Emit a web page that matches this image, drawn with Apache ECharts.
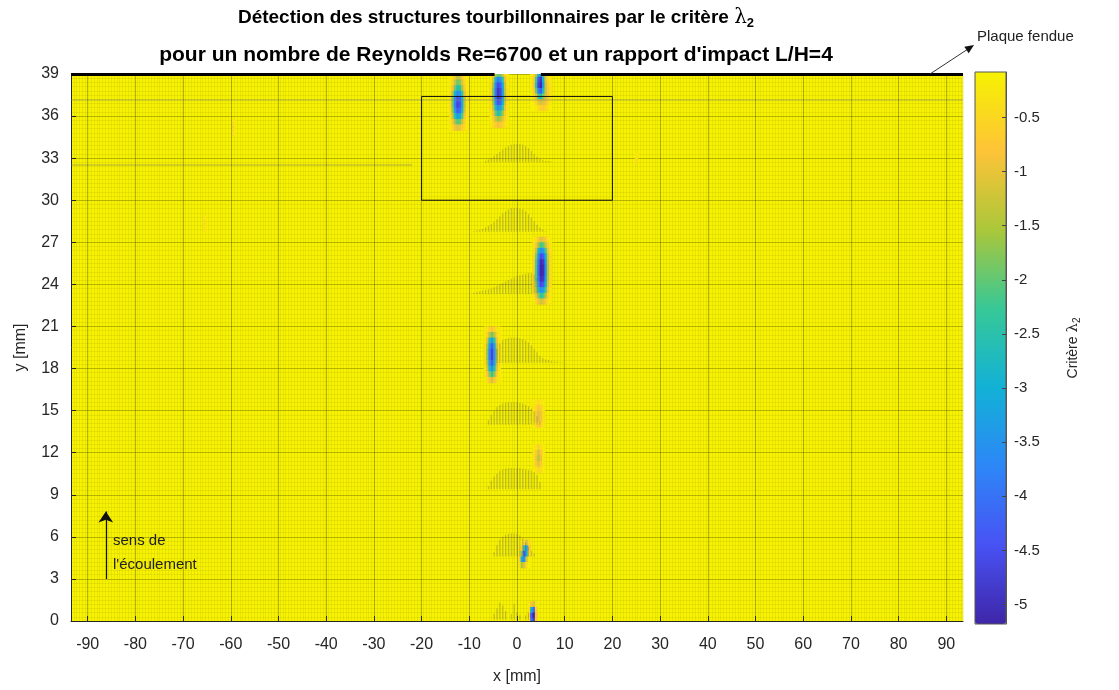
<!DOCTYPE html>
<html>
<head>
<meta charset="utf-8">
<script src="https://cdn.jsdelivr.net/npm/echarts@6/dist/echarts.min.js"></script>
<style>
  html, body { margin: 0; background: #fff; }
  #chart { width: 1119px; height: 690px; }
</style>
</head>
<body>
<div id="chart"></div>
<script>
// axis ticks
var xTicks = [-90, -80, -70, -60, -50, -40, -30, -20, -10, 0, 10, 20, 30, 40, 50, 60, 70, 80, 90];
var cbTicks = [-5, -4.5, -4, -3.5, -3, -2.5, -2, -1.5, -1, -0.5];

// lambda2 values around each vortex (rows from top to bottom), background is about -0.1
var vortexTopLeft = {
  x: [-14, -13.5, -13, -12.5, -12, -11.5, -11, -10.5],
  y: [38.8, 38.4, 38, 37.6, 37.2, 36.8, 36.4, 36, 35.6, 35.2],
  v: [
    [-0.2, -0.4, -0.9, -1.4, -1.3, -0.8, -0.3, -0.2],
    [-0.2, -0.6, -1.3, -1.9, -1.8, -1.1, -0.5, -0.2],
    [-0.3, -0.9, -1.9, -2.6, -2.5, -1.6, -0.7, -0.2],
    [-0.4, -1.4, -2.9, -3.7, -3.5, -2.4, -1.0, -0.3],
    [-0.4, -1.8, -3.6, -4.5, -4.3, -3.0, -1.3, -0.3],
    [-0.5, -1.9, -3.8, -4.7, -4.5, -3.2, -1.4, -0.3],
    [-0.4, -1.7, -3.4, -4.3, -4.1, -2.9, -1.2, -0.3],
    [-0.4, -1.3, -2.6, -3.3, -3.1, -2.1, -0.9, -0.3],
    [-0.3, -0.8, -1.6, -2.1, -2.0, -1.3, -0.6, -0.2],
    [-0.2, -0.5, -0.9, -1.1, -1.0, -0.7, -0.4, -0.2]
  ]
};
var vortexTopMid = {
  x: [-5.5, -5, -4.5, -4, -3.5, -3, -2.5, -2],
  y: [39, 38.6, 38.2, 37.8, 37.4, 37, 36.6, 36.2, 35.8, 35.4],
  v: [
    [-0.2, -0.6, -1.4, -2.0, -1.9, -1.2, -0.5, -0.2],
    [-0.3, -1.2, -2.8, -3.8, -3.6, -2.4, -1.0, -0.3],
    [-0.4, -1.6, -3.6, -4.6, -4.4, -3.1, -1.3, -0.3],
    [-0.5, -1.8, -3.9, -4.9, -4.7, -3.3, -1.4, -0.4],
    [-0.5, -1.8, -3.9, -4.9, -4.7, -3.3, -1.4, -0.4],
    [-0.4, -1.6, -3.5, -4.5, -4.3, -3.0, -1.3, -0.3],
    [-0.4, -1.3, -2.7, -3.6, -3.4, -2.3, -1.0, -0.3],
    [-0.3, -0.9, -1.9, -2.6, -2.4, -1.6, -0.7, -0.2],
    [-0.2, -0.6, -1.2, -1.6, -1.5, -1.0, -0.5, -0.2],
    [-0.2, -0.4, -0.7, -0.9, -0.8, -0.6, -0.3, -0.2]
  ]
};
var vortexTopRight = {
  x: [3, 3.5, 4, 4.5, 5, 5.5, 6, 6.5, 7],
  y: [39, 38.6, 38.2, 37.8, 37.4, 37, 36.6],
  v: [
    [-0.2, -0.5, -1.4, -3.0, -3.6, -2.0, -0.8, -0.3, -0.2],
    [-0.2, -0.7, -2.2, -4.4, -4.9, -3.0, -1.1, -0.5, -0.2],
    [-0.2, -0.8, -2.5, -4.7, -5.1, -3.4, -1.3, -0.6, -0.3],
    [-0.2, -0.6, -1.9, -3.8, -4.3, -2.8, -1.3, -0.7, -0.3],
    [-0.1, -0.4, -1.0, -2.2, -2.6, -1.8, -1.1, -0.7, -0.3],
    [-0.1, -0.2, -0.5, -1.0, -1.2, -1.1, -0.9, -0.5, -0.2],
    [-0.1, -0.1, -0.2, -0.4, -0.6, -0.7, -0.5, -0.3, -0.1]
  ]
};
var vortex25 = {
  x: [3.5, 4, 4.5, 5, 5.5, 6, 6.5, 7],
  y: [27.2, 26.8, 26.4, 26, 25.6, 25.2, 24.8, 24.4, 24, 23.6, 23.2, 22.8],
  v: [
    [-0.2, -0.4, -0.8, -1.1, -1.0, -0.7, -0.3, -0.2],
    [-0.3, -0.8, -1.6, -2.2, -2.0, -1.3, -0.6, -0.2],
    [-0.4, -1.3, -2.8, -3.6, -3.4, -2.2, -0.9, -0.3],
    [-0.5, -1.8, -3.6, -4.6, -4.4, -3.0, -1.2, -0.4],
    [-0.6, -2.1, -4.0, -5.1, -4.9, -3.4, -1.4, -0.4],
    [-0.6, -2.2, -4.2, -5.2, -5.1, -3.6, -1.5, -0.4],
    [-0.6, -2.2, -4.2, -5.2, -5.1, -3.6, -1.5, -0.4],
    [-0.6, -2.1, -4.0, -5.0, -4.9, -3.4, -1.4, -0.4],
    [-0.5, -1.8, -3.6, -4.6, -4.4, -3.0, -1.2, -0.4],
    [-0.4, -1.4, -2.8, -3.6, -3.4, -2.3, -0.9, -0.3],
    [-0.3, -0.9, -1.8, -2.4, -2.2, -1.5, -0.6, -0.2],
    [-0.2, -0.5, -0.9, -1.2, -1.1, -0.7, -0.3, -0.2]
  ]
};
var vortex19 = {
  x: [-6.75, -6.25, -5.75, -5.25, -4.75, -4.25, -3.75],
  y: [20.8, 20.4, 20, 19.6, 19.2, 18.8, 18.4, 18, 17.6, 17.2],
  v: [
    [-0.2, -0.3, -0.6, -0.8, -0.6, -0.3, -0.2],
    [-0.2, -0.6, -1.4, -1.9, -1.4, -0.6, -0.2],
    [-0.3, -1.1, -2.6, -3.3, -2.5, -1.0, -0.3],
    [-0.4, -1.5, -3.4, -4.3, -3.3, -1.4, -0.4],
    [-0.4, -1.7, -3.8, -4.7, -3.7, -1.6, -0.4],
    [-0.4, -1.7, -3.8, -4.7, -3.7, -1.6, -0.4],
    [-0.4, -1.5, -3.4, -4.3, -3.3, -1.4, -0.4],
    [-0.3, -1.2, -2.7, -3.5, -2.6, -1.1, -0.3],
    [-0.3, -0.8, -1.7, -2.4, -1.7, -0.7, -0.2],
    [-0.2, -0.4, -0.8, -1.2, -0.8, -0.4, -0.2]
  ]
};
var orange15 = {
  x: [3.5, 4, 4.5, 5, 5.5],
  y: [15.6, 15.2, 14.8, 14.4, 14],
  v: [
    [-0.2, -0.3, -0.4, -0.3, -0.2],
    [-0.3, -0.5, -0.8, -0.6, -0.3],
    [-0.3, -0.7, -1.1, -0.9, -0.4],
    [-0.3, -0.7, -1.1, -0.9, -0.4],
    [-0.2, -0.4, -0.7, -0.5, -0.3]
  ]
};
var orange12 = {
  x: [3.5, 4, 4.5, 5, 5.5],
  y: [12.4, 12, 11.6, 11.2, 10.8],
  v: [
    [-0.2, -0.3, -0.6, -0.4, -0.2],
    [-0.3, -0.7, -1.2, -0.8, -0.3],
    [-0.3, -0.9, -1.4, -1.0, -0.3],
    [-0.3, -0.7, -1.1, -0.7, -0.3],
    [-0.2, -0.3, -0.5, -0.4, -0.2]
  ]
};
var vortex5 = {
  x: [0.5, 1, 1.5, 2, 2.5],
  y: [5.6, 5.2, 4.8, 4.4, 4],
  v: [
    [-0.1, -0.2, -0.6, -1.2, -0.5],
    [-0.2, -0.7, -2.6, -3.4, -0.9],
    [-0.3, -1.8, -4.3, -3.0, -0.5],
    [-0.5, -3.2, -3.6, -1.2, -0.2],
    [-0.3, -1.5, -1.1, -0.4, -0.1]
  ]
};
var vortex0 = {
  x: [2.5, 3, 3.5, 4],
  y: [1.2, 0.8, 0.4, 0],
  v: [
    [-0.2, -0.8, -1.2, -0.3],
    [-0.4, -3.0, -4.2, -0.6],
    [-0.5, -4.4, -5.2, -0.8],
    [-0.4, -4.0, -4.8, -0.6]
  ]
};
var faintSpots = [
  [-59.5, 35.6, -0.35], [-59.5, 35.2, -0.45], [-59.5, 34.8, -0.35],
  [-65.5, 28.8, -0.3], [-65.5, 28.4, -0.4], [-65.5, 28.0, -0.3],
  [25, 33.2, -0.3], [25, 32.8, -0.4]
];

// velocity vectors (quiver): x positions, base height of each row, vector lengths in mm
var quiverX = [-9, -8.4, -7.8, -7.2, -6.6, -6, -5.4, -4.8, -4.2, -3.6, -3, -2.4, -1.8, -1.2, -0.6, 0,
               0.6, 1.2, 1.8, 2.4, 3, 3.6, 4.2, 4.8, 5.4, 6, 6.6, 7.2, 7.8, 8.4, 9, 9.6];
var quiverBaseY = [32.7, 27.75, 23.3, 18.4, 14.0, 9.4, 4.6, 0.1];
var quiverLen = [
  [0, 0, 0, 0, 0.1, 0.2, 0.3, 0.45, 0.6, 0.75, 0.9, 1.05, 1.15, 1.25, 1.3, 1.3, 1.3, 1.25, 1.15, 1.0, 0.8, 0.6, 0.4, 0.25, 0.15, 0.1, 0.1, 0.05, 0, 0, 0, 0],
  [0.05, 0.1, 0.15, 0.2, 0.3, 0.4, 0.55, 0.7, 0.9, 1.1, 1.3, 1.45, 1.6, 1.7, 1.7, 1.7, 1.65, 1.6, 1.45, 1.25, 1.0, 0.75, 0.5, 0.3, 0.15, 0.05, 0, 0, 0, 0, 0, 0],
  [0.1, 0.15, 0.2, 0.25, 0.3, 0.35, 0.4, 0.5, 0.6, 0.7, 0.8, 0.9, 1.0, 1.1, 1.2, 1.3, 1.35, 1.4, 1.45, 1.5, 1.5, 1.4, 1.2, 0, 0, 0, 0, 0, 0, 0, 0, 0],
  [0, 0, 0, 0, 0, 0, 0, 0, 1.0, 1.4, 1.6, 1.7, 1.75, 1.8, 1.8, 1.8, 1.75, 1.7, 1.6, 1.45, 1.25, 1.0, 0.75, 0.5, 0.35, 0.25, 0.2, 0.15, 0.1, 0.1, 0.05, 0.05],
  [0, 0, 0, 0, 0, 0.3, 0.7, 1.0, 1.25, 1.4, 1.5, 1.55, 1.6, 1.6, 1.6, 1.6, 1.55, 1.5, 1.4, 1.3, 1.15, 0.95, 0.6, 0.2, 0, 0, 0, 0, 0, 0, 0, 0],
  [0, 0, 0, 0, 0, 0.2, 0.6, 0.9, 1.1, 1.3, 1.4, 1.45, 1.5, 1.5, 1.5, 1.5, 1.5, 1.45, 1.4, 1.35, 1.3, 1.2, 1.0, 0.5, 0, 0, 0, 0, 0, 0, 0, 0],
  [0, 0, 0, 0, 0, 0, 0, 0.3, 0.8, 1.2, 1.4, 1.55, 1.6, 1.65, 1.65, 1.6, 1.5, 1.3, 1.0, 0.7, 0.4, 0.2, 0, 0, 0, 0, 0, 0, 0, 0, 0, 0],
  [0, 0, 0, 0, 0, 0, 0, 0.4, 0.8, 1.2, 1.0, 0.6, 0, 0.4, 1.1, 0.5, 0.3, 0, 0.3, 0.5, 0, 0, 0, 0, 0, 0, 0, 0, 0, 0, 0, 0]
];

// faint rows of tiny vectors near the plate
var streakRows = [
  [[-93.5, 37.15], [93.5, 37.15]],
  [[-93.5, 32.5], [-22, 32.5]]
];
// slotted plate at y = 39 (slot between -4.7 and 5 mm), zoom box, flow direction arrow
var plateSegments = [
  [[-93.5, 39], [-4.7, 39]],
  [[5, 39], [93.5, 39]]
];
var boxX = [-20, 20];
var boxY = [30, 37.4];
var flowArrow = [[-86.2, 3.0], [-86.2, 7.8]];

var parula = ['#3E26A8', '#4852F4', '#2D87F7', '#12B1D6', '#37C897', '#ABC739', '#FEC338', '#F6F201'];
var FONT = '"Liberation Sans", Arial, sans-serif';
var CELL_DX = 0.5, CELL_DY = 0.4;

function cellsOf(b) {
  var out = [];
  b.v.forEach(function (row, i) {
    row.forEach(function (val, j) { out.push([b.x[j], b.y[i], val]); });
  });
  return out;
}
var cellData = []
  .concat(cellsOf(vortexTopLeft), cellsOf(vortexTopMid), cellsOf(vortexTopRight),
          cellsOf(vortex25), cellsOf(vortex19), cellsOf(orange15), cellsOf(orange12),
          cellsOf(vortex5), cellsOf(vortex0), faintSpots);

var quiverData = [];
quiverLen.forEach(function (row, r) {
  row.forEach(function (h, i) {
    if (h > 0) quiverData.push([quiverX[i], quiverBaseY[r], h]);
  });
});

function renderCell(params, api) {
  var p = api.coord([api.value(0), api.value(1)]);
  var s = api.size([CELL_DX, CELL_DY]);
  return {
    type: 'rect',
    shape: { x: p[0] - s[0] / 2, y: p[1] - s[1] / 2, width: s[0] + 0.6, height: s[1] + 0.6 },
    style: { fill: api.visual('color') }
  };
}
function renderVector(params, api) {
  var a = api.coord([api.value(0), api.value(1)]);
  var b = api.coord([api.value(0), api.value(1) + api.value(2)]);
  return {
    type: 'line',
    shape: { x1: a[0], y1: a[1], x2: b[0], y2: b[1] },
    style: { stroke: 'rgba(95,95,95,0.38)', lineWidth: 1 }
  };
}

var chart = echarts.init(document.getElementById('chart'));
var axisColor = '#262626';

var option = {
  backgroundColor: '#fff',
  animation: false,
  textStyle: { fontFamily: FONT },
  grid: [
    { left: 71, top: 74, width: 892, height: 548, show: true, backgroundColor: parula[7], borderWidth: 0 },
    { left: 975, top: 72, width: 31, height: 552, show: true, backgroundColor: 'transparent', borderColor: '#555', borderWidth: 1, z: 6 }
  ],
  visualMap: {
    type: 'continuous',
    seriesIndex: 0,
    dimension: 2,
    min: -5.18,
    max: -0.08,
    calculable: false,
    left: 975,
    top: 72,
    itemWidth: 31,
    itemHeight: 552,
    padding: 0,
    inRange: { color: parula }
  },
  xAxis: [
    {
      gridIndex: 0, type: 'value', min: -93.5, max: 93.5,
      name: 'x [mm]', nameLocation: 'middle', nameGap: 48,
      nameTextStyle: { fontSize: 16, color: axisColor, fontFamily: FONT },
      axisLine: { show: true, onZero: false, lineStyle: { color: axisColor, width: 1 } },
      axisTick: { show: true, inside: true, length: 5, customValues: xTicks, lineStyle: { color: axisColor } },
      axisLabel: { customValues: xTicks, fontSize: 16, color: axisColor, margin: 16, fontFamily: FONT },
      splitLine: { show: false }
    },
    {
      gridIndex: 0, type: 'value', min: -93.5, max: 93.5, interval: 0.6, position: 'top',
      axisLine: { show: false }, axisTick: { show: false }, axisLabel: { show: false },
      splitLine: { show: true, lineStyle: { color: 'rgba(110,100,0,0.10)', width: 1 } }
    },
    { gridIndex: 1, type: 'value', min: 0, max: 1, show: false }
  ],
  yAxis: [
    {
      gridIndex: 0, type: 'value', min: 0, max: 39, interval: 3,
      name: 'y [mm]', nameLocation: 'middle', nameGap: 42, nameRotate: 90,
      nameTextStyle: { fontSize: 16, color: axisColor, fontFamily: FONT },
      axisLine: { show: true, onZero: false, lineStyle: { color: axisColor, width: 1 } },
      axisTick: { show: true, inside: true, length: 5, lineStyle: { color: axisColor } },
      axisLabel: { fontSize: 16, color: axisColor, margin: 12, fontFamily: FONT },
      splitLine: { show: true, lineStyle: { color: 'rgba(70,70,0,0.35)', width: 1 } },
      minorTick: { show: false, splitNumber: 10 },
      minorSplitLine: { show: true, lineStyle: { color: 'rgba(110,100,0,0.10)', width: 1 } }
    },
    {
      gridIndex: 1, type: 'value', min: -5.18, max: -0.08, position: 'right', z: 6,
      name: 'Critère {l|λ}{s|2}', nameLocation: 'middle', nameGap: 58, nameRotate: 90,
      nameTextStyle: {
        fontSize: 14, color: axisColor, fontFamily: FONT,
        rich: {
          l: { fontSize: 15, fontFamily: '"DejaVu Serif", serif', color: axisColor },
          s: { fontSize: 10, color: axisColor, fontFamily: FONT, padding: [8, 0, 0, 0] }
        }
      },
      axisLine: { show: true, onZero: false, lineStyle: { color: '#555', width: 1 } },
      axisTick: { show: true, inside: true, length: 4, customValues: cbTicks, lineStyle: { color: '#444' } },
      axisLabel: { customValues: cbTicks, fontSize: 15, color: axisColor, margin: 8, fontFamily: FONT },
      splitLine: { show: false }
    }
  ],
  series: [
    {
      name: 'lambda2', type: 'custom', xAxisIndex: 0, yAxisIndex: 0,
      renderItem: renderCell, data: cellData, encode: { x: 0, y: 1 },
      clip: true, z: 3, silent: true
    },
    {
      name: 'grid x', type: 'line', xAxisIndex: 0, yAxisIndex: 0, data: [], z: 2, silent: true,
      markLine: {
        silent: true, symbol: 'none', label: { show: false },
        lineStyle: { color: 'rgba(70,70,0,0.35)', width: 1, type: 'solid' },
        data: xTicks.map(function (v) { return { xAxis: v }; })
      }
    },
    {
      name: 'vectors', type: 'custom', xAxisIndex: 0, yAxisIndex: 0,
      renderItem: renderVector, data: quiverData, encode: { x: 0, y: 1 },
      clip: true, z: 4, silent: true
    },
    {
      name: 'streaks', type: 'lines', coordinateSystem: 'cartesian2d', xAxisIndex: 0, yAxisIndex: 0,
      data: streakRows.map(function (c) { return { coords: c }; }),
      lineStyle: { color: 'rgba(120,120,120,0.35)', width: 1.5, opacity: 1 }, z: 4, silent: true
    },
    {
      name: 'plate', type: 'lines', coordinateSystem: 'cartesian2d', xAxisIndex: 0, yAxisIndex: 0,
      data: plateSegments.map(function (c) { return { coords: c }; }),
      lineStyle: { color: '#000', width: 3, opacity: 1 }, clip: false, z: 6, silent: true
    },
    {
      name: 'box', type: 'lines', coordinateSystem: 'cartesian2d', polyline: true,
      xAxisIndex: 0, yAxisIndex: 0,
      data: [{ coords: [[boxX[0], boxY[0]], [boxX[1], boxY[0]], [boxX[1], boxY[1]], [boxX[0], boxY[1]], [boxX[0], boxY[0]]] }],
      lineStyle: { color: '#111', width: 1, opacity: 1 }, z: 6, silent: true
    },
    {
      name: 'flow', type: 'lines', coordinateSystem: 'cartesian2d', xAxisIndex: 0, yAxisIndex: 0,
      data: [{ coords: flowArrow }],
      symbol: ['none', 'arrow'], symbolSize: [0, 11],
      lineStyle: { color: '#111', width: 1.2, opacity: 1 }, z: 6, silent: true
    }
  ],
  graphic: [
    {
      type: 'text', x: 496, y: 18, z: 10,
      style: {
        text: 'Détection des structures tourbillonnaires par le critère {l|λ}{s|2}',
        align: 'center', verticalAlign: 'middle',
        fontSize: 19, fontWeight: 'bold', fontFamily: FONT, fill: '#000',
        rich: {
          l: { fontSize: 20, fontFamily: '"DejaVu Serif", serif', fill: '#000' },
          s: { fontSize: 13, fontWeight: 'bold', fontFamily: FONT, fill: '#000', padding: [11, 0, 0, 0] }
        }
      }
    },
    {
      type: 'text', x: 496, y: 55, z: 10,
      style: {
        text: "pour un nombre de Reynolds Re=6700 et un rapport d'impact L/H=4",
        align: 'center', verticalAlign: 'middle',
        fontSize: 21, fontWeight: 'bold', fontFamily: FONT, fill: '#000'
      }
    },
    {
      type: 'text', x: 977, y: 37, z: 10,
      style: { text: 'Plaque fendue', align: 'left', verticalAlign: 'middle', fontSize: 15, fontFamily: FONT, fill: '#222' }
    },
    {
      type: 'line', z: 10,
      shape: { x1: 930, y1: 74, x2: 968, y2: 49 },
      style: { stroke: '#333', lineWidth: 1 }
    },
    {
      type: 'polygon', z: 10,
      shape: { points: [[974, 45], [968.7, 53.3], [964.3, 46.7]] },
      style: { fill: '#111' }
    },
    {
      type: 'text', x: 113, y: 541, z: 10,
      style: { text: 'sens de', align: 'left', verticalAlign: 'middle', fontSize: 15, fontFamily: FONT, fill: '#222' }
    },
    {
      type: 'text', x: 113, y: 565, z: 10,
      style: { text: "l'écoulement", align: 'left', verticalAlign: 'middle', fontSize: 15, fontFamily: FONT, fill: '#222' }
    }
  ]
};

chart.setOption(option);
</script>
</body>
</html>
